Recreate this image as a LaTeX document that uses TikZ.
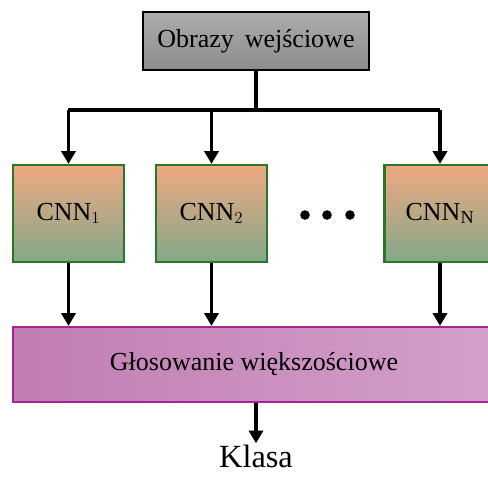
\documentclass[tikz,border=0pt]{standalone}
\usepackage{fontspec}
\setmainfont{Liberation Serif}
\usetikzlibrary{arrows.meta}

\definecolor{cnntop}{RGB}{240,168,130}
\definecolor{cnnbot}{RGB}{130,168,138}
\definecolor{cnnedge}{RGB}{40,120,40}
\definecolor{votel}{RGB}{192,125,178}
\definecolor{voter}{RGB}{212,160,202}
\definecolor{voteedge}{RGB}{160,40,150}

\tikzset{
  inbox/.style={draw=black, line width=1.8pt, top color=gray!65, bottom color=gray!90,
    minimum width=5.65cm, minimum height=1.45cm, inner sep=0pt},
  cnnbox/.style={draw=cnnedge, line width=1.6pt, shading=axis, top color=cnntop,
    middle color=cnntop!55!cnnbot, bottom color=cnnbot,
    minimum width=2.775cm, minimum height=2.425cm, inner sep=0pt},
  votebox/.style={draw=voteedge, line width=1.6pt, left color=votel, right color=voter,
    minimum width=12.05cm, minimum height=1.875cm, inner sep=0pt},
  conn/.style={line width=2.4pt, -{Triangle[length=9pt,width=10pt]}}
}

\begin{document}
\begin{tikzpicture}[font=\fontsize{18.5}{22}\selectfont]
\useasboundingbox (0,0) rectangle (12.2,11.925);

% input
\node[inbox] (obrazy) at (6.4,10.9) {Obrazy\, wejściowe};
\coordinate (rozg) at (6.4,9.175);

% networks
\node[cnnbox] (cnn1) at (1.7125,6.5875) {CNN$_1$};
\node[cnnbox] (cnn2) at (5.2875,6.5875) {CNN$_2$};
\node[cnnbox] (cnnN) at (11.0,6.5875) {CNN$_\mathrm{N}$};

\fill (7.625,6.55) circle (0.12);
\fill (8.175,6.55) circle (0.12);
\fill (8.75,6.55) circle (0.12);

% voting
\node[votebox] (glos) at (6.35,2.8125) {Głosowanie większościowe};
\node[font=\fontsize{23}{27}\selectfont, inner sep=1pt, anchor=base] (klasa) at (6.4,0.24) {Klasa};

\draw[line width=2.4pt] (obrazy.south) -- (rozg);
\draw[line width=2.4pt] (rozg -| cnn1.north) -- (rozg -| cnnN.north);
\foreach \n in {cnn1,cnn2,cnnN} {
  \draw[conn] (rozg -| \n.north) -- (\n.north);
  \draw[conn] (\n.south) -- (\n.south |- glos.north);
}
\draw[conn] (glos.south -| klasa) -- (klasa.north);

\end{tikzpicture}
\end{document}
